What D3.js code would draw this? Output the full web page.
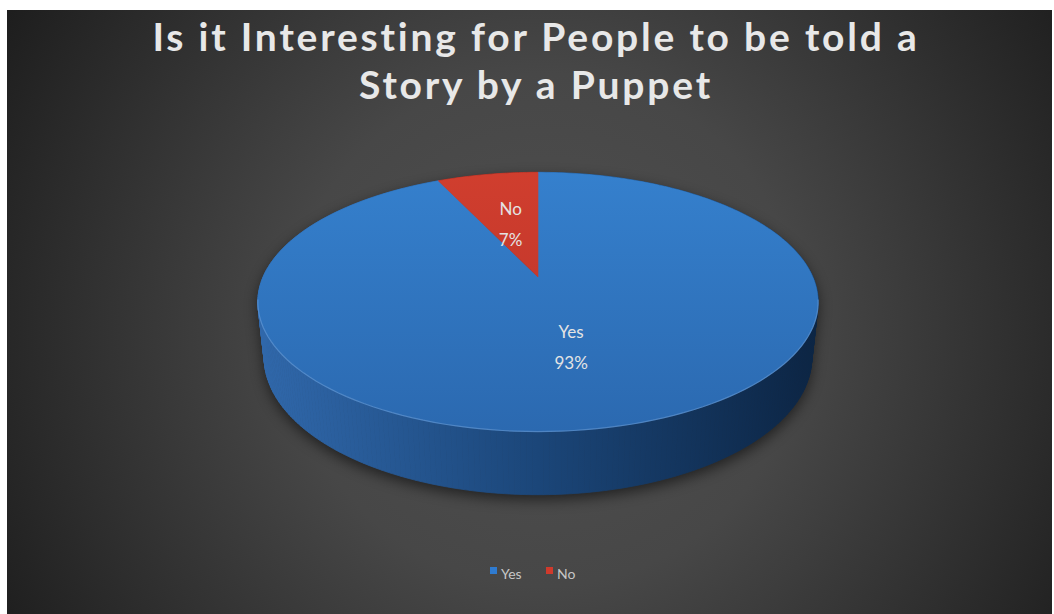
<!DOCTYPE html>
<html>
<head>
<meta charset="utf-8">
<script src="https://cdn.jsdelivr.net/npm/d3@7"></script>
<style>
  html, body { margin: 0; padding: 0; background: #ffffff; }
  svg { display: block; }
</style>
</head>
<body>
<svg id="chart" width="1054" height="614"></svg>
<script>
// ---- data ----
const categories = ["Yes", "No"];
const values = [93, 7];
const percentLabels = ["93%", "7%"];
const titleLines = ["Is it Interesting for People to be told a", "Story by a Puppet"];

// ---- colours ----
const topColors = { Yes: ["#3580cd", "#2b69b0"], No: ["#d03e2e", "#b9322a"] };
const wallColors = { Yes: ["#3068ab", "#1b4679", "#0c2544"], No: ["#a52c24", "#7d1f1a", "#5a1512"] };

const W = 1054, H = 614;
const svg = d3.select("#chart");
const defs = svg.append("defs");

// chart area background
const bg = defs.append("radialGradient").attr("id", "bgGrad")
  .attr("gradientUnits", "userSpaceOnUse")
  .attr("cx", 545).attr("cy", 330).attr("r", 640);
bg.append("stop").attr("offset", 0).attr("stop-color", "#505050");
bg.append("stop").attr("offset", 0.4).attr("stop-color", "#474747");
bg.append("stop").attr("offset", 1).attr("stop-color", "#1c1c1c");
svg.append("rect").attr("x", 7).attr("y", 10).attr("width", 1045).attr("height", 604)
  .attr("fill", "url(#bgGrad)");

// ---- perspective projection of a flat cylinder ----
const cx = 538, cy = 277;       // screen position of the pie centre (top face)
const k = 1273;                 // focal scale
const D = 4.63;                 // camera distance in radius units
const elev = 27 * Math.PI / 180;
const sE = Math.sin(elev), cE = Math.cos(elev);
const thick = 0.228;            // cylinder height in radius units

function proj(a, y, r = 1) {
  const x = r * Math.sin(a), z = r * Math.cos(a);
  const depth = D - y * sE + z * cE;
  return [cx + k * x / depth, cy - k * (y * cE + z * sE) / depth, depth];
}

const pie = d3.pie().sort(null).value(d => d.value);
const arcs = pie(categories.map((c, i) => ({ name: c, value: values[i], label: percentLabels[i] })));

// gradients for slices
arcs.forEach(d => {
  const n = d.data.name;
  const tg = defs.append("linearGradient").attr("id", "top" + n)
    .attr("gradientUnits", "userSpaceOnUse").attr("x1", 0).attr("y1", 172).attr("x2", 0).attr("y2", 432);
  tg.append("stop").attr("offset", 0).attr("stop-color", topColors[n][0]);
  tg.append("stop").attr("offset", 1).attr("stop-color", topColors[n][1]);
  const wg = defs.append("linearGradient").attr("id", "wall" + n)
    .attr("gradientUnits", "userSpaceOnUse").attr("x1", 260).attr("y1", 0).attr("x2", 815).attr("y2", 0);
  wg.append("stop").attr("offset", 0).attr("stop-color", wallColors[n][0]);
  wg.append("stop").attr("offset", 0.5).attr("stop-color", wallColors[n][1]);
  wg.append("stop").attr("offset", 1).attr("stop-color", wallColors[n][2]);
});

// soft shadow under the pie
const blur = defs.append("filter").attr("id", "shadowBlur")
  .attr("x", "-20%").attr("y", "-20%").attr("width", "140%").attr("height", "140%");
blur.append("feGaussianBlur").attr("stdDeviation", 7);

const hullPts = [];
for (let i = 0; i < 360; i += 2) {
  const a = i * Math.PI / 180;
  const p1 = proj(a, 0), p2 = proj(a, -thick);
  hullPts.push([p1[0], p1[1]], [p2[0], p2[1]]);
}
const hull = d3.polygonHull(hullPts);
svg.append("path")
  .attr("d", "M" + hull.map(p => [p[0], p[1] + 5].join(",")).join("L") + "Z")
  .attr("fill", "#000").attr("opacity", 0.55)
  .attr("filter", "url(#shadowBlur)");

// outer walls, drawn back to front
const step = Math.PI / 180;
const segs = [];
arcs.forEach(d => {
  for (let a = d.startAngle; a < d.endAngle - 1e-9; a += step) {
    const b = Math.min(a + step, d.endAngle);
    const pts = [proj(a, 0), proj(b, 0), proj(b, -thick), proj(a, -thick)];
    segs.push({ name: d.data.name, pts, depth: (pts[0][2] + pts[1][2]) / 2 });
  }
});
segs.sort((p, q) => q.depth - p.depth);
svg.append("g").selectAll("path").data(segs).join("path")
  .attr("d", s => "M" + s.pts.map(p => p[0] + "," + p[1]).join("L") + "Z")
  .attr("fill", s => `url(#wall${s.name})`)
  .attr("stroke", s => `url(#wall${s.name})`)
  .attr("stroke-width", 0.8);

// top faces
function topPath(d) {
  const pts = [[cx, cy]];
  const n = Math.max(2, Math.ceil((d.endAngle - d.startAngle) / step));
  for (let i = 0; i <= n; i++) {
    const a = d.startAngle + (d.endAngle - d.startAngle) * i / n;
    const p = proj(a, 0);
    pts.push([p[0], p[1]]);
  }
  return "M" + pts.map(p => p.join(",")).join("L") + "Z";
}
svg.append("g").selectAll("path").data(arcs).join("path")
  .attr("d", topPath)
  .attr("fill", d => `url(#top${d.data.name})`)
  .attr("stroke", d => `url(#top${d.data.name})`)
  .attr("stroke-width", 0.6);

// faint rim highlight along the near edge of the top face
const rim = d3.range(100, 261, 2).map(deg => proj(deg * Math.PI / 180, 0));
svg.append("path")
  .attr("d", "M" + rim.map(p => p[0] + "," + p[1]).join("L"))
  .attr("fill", "none").attr("stroke", "#6fa3dc").attr("stroke-opacity", 0.55).attr("stroke-width", 1.2);

// data labels
const labelFont = "Lato, 'Open Sans', sans-serif";
const lab = svg.append("g").selectAll("g").data(arcs).join("g")
  .attr("transform", d => {
    const p = proj((d.startAngle + d.endAngle) / 2, 0, 0.5);
    return `translate(${p[0]},${p[1]})`;
  });
lab.append("text").attr("y", -6).attr("text-anchor", "middle")
  .attr("font-family", labelFont).attr("font-size", 17).attr("fill", "#e4e4e4")
  .text(d => d.data.name);
lab.append("text").attr("y", 25).attr("text-anchor", "middle")
  .attr("font-family", labelFont).attr("font-size", 17).attr("fill", "#e4e4e4")
  .text(d => d.data.label);

// title
const title = svg.append("g");
const tl = title.selectAll("text").data(titleLines).join("text")
  .attr("x", 536).attr("y", (d, i) => 51 + i * 48)
  .attr("text-anchor", "middle")
  .attr("font-family", "Lato, 'Open Sans', sans-serif")
  .attr("font-weight", "bold").attr("font-size", 39)
  .attr("fill", "#e8e8e8")
  .text(d => d);
// spread the first line to its full width and reuse the same spacing
const first = tl.node();
const natural = first.getComputedTextLength();
const target = 765;
const ls = (target - natural) / (titleLines[0].length - 1);
tl.attr("letter-spacing", ls);

// legend
const legend = svg.append("g").attr("transform", "translate(490,567)");
const legendX = [0, 56];
const legendColors = ["#2f7bd0", "#cf3a2c"];
const li = legend.selectAll("g").data(categories).join("g")
  .attr("transform", (d, i) => `translate(${legendX[i]},0)`);
li.append("rect").attr("width", 7).attr("height", 7).attr("fill", (d, i) => legendColors[i]);
li.append("text").attr("x", 11).attr("y", 12)
  .attr("font-family", labelFont).attr("font-size", 14).attr("fill", "#c6c6c6")
  .text(d => d);
</script>
</body>
</html>
